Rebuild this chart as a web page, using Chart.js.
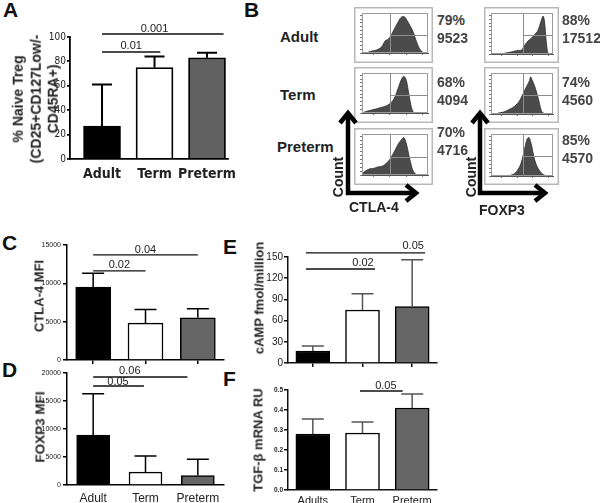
<!DOCTYPE html>
<html><head><meta charset="utf-8">
<script src="https://cdn.jsdelivr.net/npm/chart.js@4.4.1/dist/chart.umd.min.js"></script>
<style>
html,body{margin:0;padding:0;background:#fff;}
#fig{position:relative;width:600px;height:503px;overflow:hidden;font-family:"Liberation Sans",Arial,sans-serif;color:#222;}
#fig canvas{position:absolute;}
.rot{position:absolute;transform:translate(-50%,-50%) rotate(-90deg);white-space:nowrap;font-weight:bold;text-align:center;color:#222;}
</style></head><body><div id="fig"></div>
<script>
// ---------------- DATA ----------------
// Panel A
const catA = ['Adult', 'Term', 'Preterm'];
const naiveTregPct = [27, 75, 83];
const naiveTregUpper = [61, 84, 87];
const ticksA = [0, 20, 40, 60, 80, 100];
const pairsA = [[0, 2], [0, 1]];
const pvalsA = ['0.001', '0.01'];
// Panel B
const rowsB = ['Adult', 'Term', 'Preterm'];
const ctla4Pct = ['79%', '68%', '70%'];
const ctla4Mfi = ['9523', '4094', '4716'];
const foxp3Pct = ['88%', '74%', '85%'];
const foxp3Mfi = ['17512', '4560', '4570'];
const histCtlaAdult = [[0,0],[8,1],[12,4],[22,8],[30,17],[35,32],[40,37],[45,50],[50,67],[55,83],[58,92],[62,97],[65,95],[68,87],[72,75],[77,58],[82,33],[87,12],[92,2],[95,0],[100,0]];
const histCtlaTerm = [[0,0],[3,2],[8,5],[15,8],[22,11],[30,15],[37,19],[45,29],[50,43],[55,67],[60,90],[63,97],[66,92],[68,80],[71,50],[75,14],[78,2],[80,0],[100,0]];
const histCtlaPreterm = [[0,0],[2,6],[7,12],[12,16],[18,17],[22,20],[32,24],[42,40],[50,64],[55,80],[60,92],[63,97],[67,82],[72,44],[77,12],[82,2],[85,0],[100,0]];
const histFoxAdult = [[0,0],[15,0],[22,2],[32,5],[43,9],[49,10],[54,22],[60,34],[65,41],[70,50],[76,62],[81,86],[84,98],[86.5,82],[89,34],[92,2],[94,0],[100,0]];
const histFoxTerm = [[0,0],[8,0],[11,2],[20,5],[27,10],[38,20],[46,34],[51,50],[57,70],[62,86],[64,96],[66,89],[70,74],[76,42],[81,10],[86,1],[88,0],[100,0]];
const histFoxPreterm = [[0,0],[25,0],[32,2],[38,6],[43,15],[49,35],[54,67],[58,92],[61,97],[65,80],[70,43],[76,19],[84,4],[89,1],[92,0],[100,0]];
const gateCtla = [43, 47];
const gateFox = [51, 50];
// Panel C
const catC = ['Adult', 'Term', 'Preterm'];
const ctla4MFI = [9500, 4800, 5500];
const ctla4MFIUpper = [11300, 6600, 6700];
const ticksC = [0, 5000, 10000, 15000];
const pairsC = [[0, 2], [0, 1]];
const pvalsC = ['0.04', '0.02'];
// Panel D
const catD = ['Adult', 'Term', 'Preterm'];
const foxp3MFI = [8900, 2300, 1700];
const foxp3MFIUpper = [16300, 5200, 4600];
const ticksD = [0, 5000, 10000, 15000, 20000];
const pairsD = [[0, 2], [0, 1]];
const pvalsD = ['0.06', '0.05'];
// Panel E
const catE = ['Adults', 'Term', 'Preterm'];
const campVals = [17, 75, 80];
const campUpper = [24, 98, 146];
const ticksE = [0, 30, 60, 90, 120, 150];
const pairsE = [[0, 2], [0, 1]];
const pvalsE = ['0.05', '0.02'];
// Panel F
const catF = ['Adults', 'Term', 'Preterm'];
const tgfbVals = [0.28, 0.285, 0.41];
const tgfbUpper = [0.355, 0.34, 0.48];
const ticksF = [0, 0.1, 0.2, 0.3, 0.4, 0.5];
const tickLabelsF = ['0.0', '0.1', '0.2', '0.3', '0.4', '0.5'];
const pairsF = [[1, 2]];
const pvalsF = ['0.05'];

// ---------------- HELPERS ----------------
const SANS = '"Liberation Sans", Arial, sans-serif';
const NARROW = '"Liberation Sans Narrow", "DejaVu Sans Condensed", "Liberation Sans", Arial, sans-serif';
const fig = document.getElementById('fig');
function addCanvas(l, t, w, h) {
  const c = document.createElement('canvas');
  c.width = w; c.height = h;
  c.style.left = l + 'px'; c.style.top = t + 'px';
  c.style.width = w + 'px'; c.style.height = h + 'px';
  fig.appendChild(c);
  return c;
}
function addText(txt, l, t, css) {
  const d = document.createElement('div');
  d.textContent = txt;
  d.style.cssText = 'position:absolute;white-space:nowrap;line-height:1;left:' + l + 'px;top:' + t + 'px;' + css;
  fig.appendChild(d);
  return d;
}
function addRot(lines, cx, cy, size, lh) {
  const d = document.createElement('div');
  d.className = 'rot';
  d.style.left = cx + 'px'; d.style.top = cy + 'px';
  d.style.fontSize = size + 'px'; d.style.lineHeight = lh + 'px';
  d.innerHTML = lines.map(s => s.replace(/&/g, '&amp;').replace(/</g, '&lt;')).join('<br>');
  fig.appendChild(d);
}

function barPanel(o) {
  const c = addCanvas(o.left, o.top, o.w, o.h);
  const annot = {
    id: 'annot',
    afterDatasetsDraw(chart) {
      const ctx = chart.ctx, xs = chart.scales.x, ys = chart.scales.y;
      const meta = chart.getDatasetMeta(0);
      ctx.save();
      o.upper.forEach((u, i) => {
        const x = meta.data[i].x;
        const y0 = ys.getPixelForValue(o.values[i]);
        const y1 = ys.getPixelForValue(u);
        ctx.strokeStyle = o.errColor; ctx.lineWidth = o.errW;
        ctx.beginPath();
        ctx.moveTo(x, y0); ctx.lineTo(x, y1);
        ctx.moveTo(x - o.cap / 2, y1); ctx.lineTo(x + o.cap / 2, y1);
        ctx.stroke();
      });
      o.pairs.forEach((p, k) => {
        const s = o.sig[k];
        const x0 = xs.getPixelForValue(p[0] + s.a);
        const x1 = xs.getPixelForValue(p[1] + s.b);
        const yy = ys.getPixelForValue(s.y);
        ctx.strokeStyle = '#111'; ctx.lineWidth = o.sigW;
        ctx.beginPath(); ctx.moveTo(x0, yy); ctx.lineTo(x1, yy); ctx.stroke();
        ctx.fillStyle = '#222'; ctx.font = o.sigFont;
        ctx.textAlign = 'center'; ctx.textBaseline = 'middle';
        const tx = (s.tx !== undefined) ? xs.getPixelForValue(s.tx) : (x0 + x1) / 2;
        ctx.fillText(o.pvals[k], tx, yy - s.dy);
      });
      ctx.restore();
    }
  };
  new Chart(c, {
    type: 'bar',
    data: {
      datasets: [{
        data: o.values.map((v, i) => ({ x: i, y: v })),
        backgroundColor: o.colors,
        borderColor: '#000',
        borderWidth: o.bw,
        barThickness: o.barW
      }]
    },
    options: {
      responsive: false, animation: false, devicePixelRatio: 1,
      layout: { padding: { top: o.pt, right: o.pr, left: 0, bottom: 0 } },
      plugins: { legend: { display: false }, tooltip: { enabled: false } },
      scales: {
        x: {
          type: 'linear', min: o.xmin, max: o.xmax, offset: false,
          afterBuildTicks: s => { s.ticks = o.labels.map((_, i) => ({ value: i })); },
          afterFit: s => { s.height = o.xh; },
          grid: { display: o.xTicks, offset: false, drawOnChartArea: false, tickLength: 4, color: o.axisColor, lineWidth: o.axW },
          border: { display: true, color: o.axisColor, width: o.axW },
          ticks: { display: o.showLabels, callback: (v, i) => o.labels[i], font: o.xfont, color: '#222', padding: o.xpad, autoSkip: false, maxRotation: 0 }
        },
        y: {
          min: o.ymin, max: o.ymax,
          afterBuildTicks: s => { s.ticks = o.yticks.map(v => ({ value: v })); },
          afterFit: s => { s.width = o.yw; },
          grid: { drawOnChartArea: false, tickLength: o.ytl, color: o.axisColor, lineWidth: o.axW },
          border: { display: true, color: o.axisColor, width: o.axW },
          ticks: { font: o.yfont, color: '#222', padding: o.ypad, callback: (v, i) => (o.yLabels ? o.yLabels[i] : String(v)) }
        }
      }
    },
    plugins: [annot]
  });
}

function histPanel(l, t, w, h, pad, pts, gate) {
  const c = addCanvas(l, t, w, h);
  const deco = {
    id: 'deco',
    beforeDraw(ch) {
      const ctx = ch.ctx;
      ctx.save();
      ctx.strokeStyle = '#b8b8b8'; ctx.lineWidth = 1.5;
      ctx.strokeRect(0.75, 0.75, w - 1.5, h - 1.5);
      ctx.restore();
    },
    afterDatasetsDraw(ch) {
      const ctx = ch.ctx, a = ch.chartArea, xs = ch.scales.x, ys = ch.scales.y;
      ctx.save();
      ctx.strokeStyle = '#9a9a9a'; ctx.lineWidth = 1;
      ctx.strokeRect(a.left + 0.5, a.top + 0.5, a.right - a.left - 1, a.bottom - a.top - 1);
      const gx = Math.round(xs.getPixelForValue(gate[0])) + 0.5;
      const gy = Math.round(ys.getPixelForValue(gate[1])) + 0.5;
      ctx.strokeStyle = '#8c8c8c';
      ctx.beginPath();
      ctx.moveTo(gx, a.top); ctx.lineTo(gx, a.bottom);
      ctx.moveTo(gx, gy); ctx.lineTo(a.right, gy);
      ctx.stroke();
      ctx.restore();
    }
  };
  new Chart(c, {
    type: 'line',
    data: {
      datasets: [{
        data: pts.map(p => ({ x: p[0], y: p[1] })),
        fill: 'origin', backgroundColor: '#4b4b4b', borderColor: '#2e2e2e',
        borderWidth: 0.8, pointRadius: 0, cubicInterpolationMode: 'monotone'
      }]
    },
    options: {
      responsive: false, animation: false, devicePixelRatio: 1,
      layout: { padding: { top: pad.t, right: pad.r, left: 0, bottom: 0 } },
      plugins: { legend: { display: false }, tooltip: { enabled: false } },
      scales: {
        x: {
          type: 'linear', min: 0, max: 100,
          afterBuildTicks: s => { s.ticks = [17, 42, 67, 92].map(v => ({ value: v })); },
          afterFit: s => { s.height = pad.b; },
          ticks: { display: false },
          grid: { drawOnChartArea: false, tickLength: 2, color: '#777' },
          border: { color: '#555', width: 1 }
        },
        y: {
          min: 0, max: 106,
          afterBuildTicks: s => { s.ticks = [0, 10, 20, 30, 40, 50, 60, 70, 80, 90, 100].map(v => ({ value: v })); },
          afterFit: s => { s.width = pad.l; },
          ticks: { display: false },
          grid: { drawOnChartArea: false, tickLength: 2, color: '#777' },
          border: { color: '#555', width: 1 }
        }
      }
    },
    plugins: [deco]
  });
}

// ---------------- PANEL LETTERS ----------------
const letterCss = 'font-weight:bold;font-size:21px;color:#111;';
addText('A', 3, -1, letterCss);
addText('B', 244, -1, letterCss);
addText('C', 2, 232, letterCss);
addText('D', 2, 359, letterCss);
addText('E', 223, 236, letterCss);
addText('F', 223, 368, letterCss);

// ---------------- PANEL A ----------------
barPanel({
  left: 0, top: 0, w: 240, h: 185, yw: 70, xh: 26, pt: 37, pr: 8,
  xmin: -0.61, xmax: 2.39, barW: 37, bw: 1.8, colors: ['#000', '#fff', '#616161'],
  labels: catA, values: naiveTregPct, upper: naiveTregUpper,
  ymin: 0, ymax: 100, yticks: ticksA, ytl: 3, ypad: 1,
  yfont: { family: NARROW, size: 10 }, xfont: { family: NARROW, size: 14, weight: 'bold' },
  xpad: 3, xTicks: false, showLabels: true, axisColor: '#000', axW: 1.8,
  errColor: '#000', errW: 2, cap: 20, sigW: 1.5, sigFont: '11px ' + SANS,
  pairs: pairsA, pvals: pvalsA,
  sig: [{ y: 102.5, a: 0, b: 0.316, dy: 5, tx: 1.0 }, { y: 87.7, a: 0, b: 0.11, dy: 6 }]
});
addRot(['% Naive Treg', '(CD25+CD127Low/-', 'CD45RA+)'], 36, 99, 14, 17.5);

// ---------------- PANEL B ----------------
const rowLblCss = 'font-weight:bold;font-size:15px;color:#222;';
addText(rowsB[0], 280, 29, rowLblCss);
addText(rowsB[1], 280, 87, rowLblCss);
addText(rowsB[2], 277, 139, rowLblCss);

const ctlaLeft = 354, ctlaW = 79, foxLeft = 484, foxW = 75;
const rowTop = [7, 67, 128], rowH = [56, 56, 57];
const padC = { l: 8, r: 5, t: 6, b: 10 }, padF = { l: 7, r: 6, t: 6, b: 9 };
const ctlaHists = [histCtlaAdult, histCtlaTerm, histCtlaPreterm];
const foxHists = [histFoxAdult, histFoxTerm, histFoxPreterm];
for (let i = 0; i < 3; i++) {
  histPanel(ctlaLeft, rowTop[i], ctlaW, rowH[i], padC, ctlaHists[i], gateCtla);
  histPanel(foxLeft, rowTop[i], foxW, rowH[i], padF, foxHists[i], gateFox);
}
const numCss = 'font-weight:bold;font-size:14px;color:#444;';
const ctlaNumY = [[20, 38], [82, 100], [132, 150]];
const foxNumY = [[20, 38], [82, 100], [140, 158]];
for (let i = 0; i < 3; i++) {
  addText(ctla4Pct[i], 437, ctlaNumY[i][0] - 7, numCss);
  addText(ctla4Mfi[i], 437, ctlaNumY[i][1] - 7, numCss);
  addText(foxp3Pct[i], 562, foxNumY[i][0] - 7, numCss);
  addText(foxp3Mfi[i], 562, foxNumY[i][1] - 7, numCss);
}
// axis arrows
const svgNS = 'http://www.w3.org/2000/svg';
const svg = document.createElementNS(svgNS, 'svg');
svg.setAttribute('width', '600'); svg.setAttribute('height', '503');
svg.style.cssText = 'position:absolute;left:0;top:0;';
[['348,114 348,193 415,193', '340,123 348,113 356,123', '406,185 416,193 406,201'],
 ['480,114 480,193 544,193', '472,123 480,113 488,123', '535,185 545,193 535,201']].forEach(set => {
  set.forEach(pts => {
    const pl = document.createElementNS(svgNS, 'polyline');
    pl.setAttribute('points', pts);
    pl.setAttribute('fill', 'none'); pl.setAttribute('stroke', '#000');
    pl.setAttribute('stroke-width', '4.5'); pl.setAttribute('stroke-linejoin', 'miter');
    svg.appendChild(pl);
  });
});
fig.appendChild(svg);
addRot(['Count'], 338, 177, 14, 16);
addRot(['Count'], 471, 177, 14, 16);
addText('CTLA-4', 349, 200, 'font-weight:bold;font-size:14px;color:#222;');
addText('FOXP3', 479, 203, 'font-weight:bold;font-size:14px;color:#222;');

// ---------------- PANEL C ----------------
barPanel({
  left: 0, top: 230, w: 232, h: 138, yw: 67, xh: 8, pt: 15, pr: 8,
  xmin: -0.5, xmax: 2.5, barW: 35, bw: 1.5, colors: ['#000', '#fff', '#666'],
  labels: catC, values: ctla4MFI, upper: ctla4MFIUpper,
  ymin: 0, ymax: 15000, yticks: ticksC, ytl: 4, ypad: 2,
  yfont: { family: SANS, size: 7 }, xfont: { family: SANS, size: 11 },
  xpad: 2, xTicks: true, showLabels: false, axisColor: '#000', axW: 1.5,
  errColor: '#000', errW: 1.5, cap: 22, sigW: 1.3, sigFont: '11px ' + SANS,
  pairs: pairsC, pvals: pvalsC,
  sig: [{ y: 13700, a: 0, b: 0, dy: 5 }, { y: 11620, a: 0, b: 0, dy: 6 }]
});
addRot(['CTLA-4 MFI'], 39, 296, 13, 15);

// ---------------- PANEL D ----------------
barPanel({
  left: 0, top: 360, w: 232, h: 143, yw: 67, xh: 18, pt: 13, pr: 8,
  xmin: -0.5, xmax: 2.5, barW: 33, bw: 1.5, colors: ['#000', '#fff', '#666'],
  labels: catD, values: foxp3MFI, upper: foxp3MFIUpper,
  ymin: 0, ymax: 20000, yticks: ticksD, ytl: 4, ypad: 2,
  yfont: { family: SANS, size: 7 }, xfont: { family: SANS, size: 12 },
  xpad: 2, xTicks: false, showLabels: true, axisColor: '#000', axW: 1.5,
  errColor: '#000', errW: 1.5, cap: 22, sigW: 1.3, sigFont: '11px ' + SANS,
  pairs: pairsD, pvals: pvalsD,
  sig: [{ y: 19285, a: 0, b: -0.2, dy: 6, tx: 0.7 }, { y: 17680, a: 0, b: -0.03, dy: 4, tx: 0.475 }]
});
addRot(['FOXP3 MFI'], 40, 427, 13.5, 15);

// ---------------- PANEL E ----------------
barPanel({
  left: 230, top: 230, w: 215, h: 140, yw: 58, xh: 7, pt: 27, pr: 8,
  xmin: -0.5, xmax: 2.5, barW: 34, bw: 1.5, colors: ['#000', '#fff', '#666'],
  labels: catE, values: campVals, upper: campUpper,
  ymin: 0, ymax: 150, yticks: ticksE, ytl: 4, ypad: 1,
  yfont: { family: SANS, size: 10 }, xfont: { family: SANS, size: 11 },
  xpad: 2, xTicks: true, showLabels: false, axisColor: '#111', axW: 1.5,
  errColor: '#555', errW: 1.5, cap: 22, sigW: 1.3, sigFont: '11px ' + SANS,
  pairs: pairsE, pvals: pvalsE,
  sig: [{ y: 155.7, a: -0.14, b: 0.26, dy: 7, tx: 2.02 }, { y: 133, a: -0.14, b: 0.25, dy: 6, tx: 1.01 }]
});
addRot(['cAMP fmol/million'], 259, 298, 13, 15);

// ---------------- PANEL F ----------------
barPanel({
  left: 230, top: 375, w: 215, h: 128, yw: 58, xh: 13, pt: 15, pr: 8,
  xmin: -0.5, xmax: 2.5, barW: 34, bw: 1.5, colors: ['#000', '#fff', '#666'],
  labels: catF, values: tgfbVals, upper: tgfbUpper,
  ymin: 0, ymax: 0.5, yticks: ticksF, yLabels: tickLabelsF, ytl: 4, ypad: 1,
  yfont: { family: SANS, size: 6.5, weight: 'bold' }, xfont: { family: SANS, size: 11, lineHeight: 1 },
  xpad: 1, xTicks: false, showLabels: true, axisColor: '#111', axW: 1.5,
  errColor: '#555', errW: 1.5, cap: 22, sigW: 1.3, sigFont: '11px ' + SANS,
  pairs: pairsF, pvals: pvalsF,
  sig: [{ y: 0.495, a: -0.05, b: -0.19, dy: 5, tx: 1.47 }]
});
addRot(['TGF-β mRNA RU'], 258, 440, 13, 15);
</script></body></html>
